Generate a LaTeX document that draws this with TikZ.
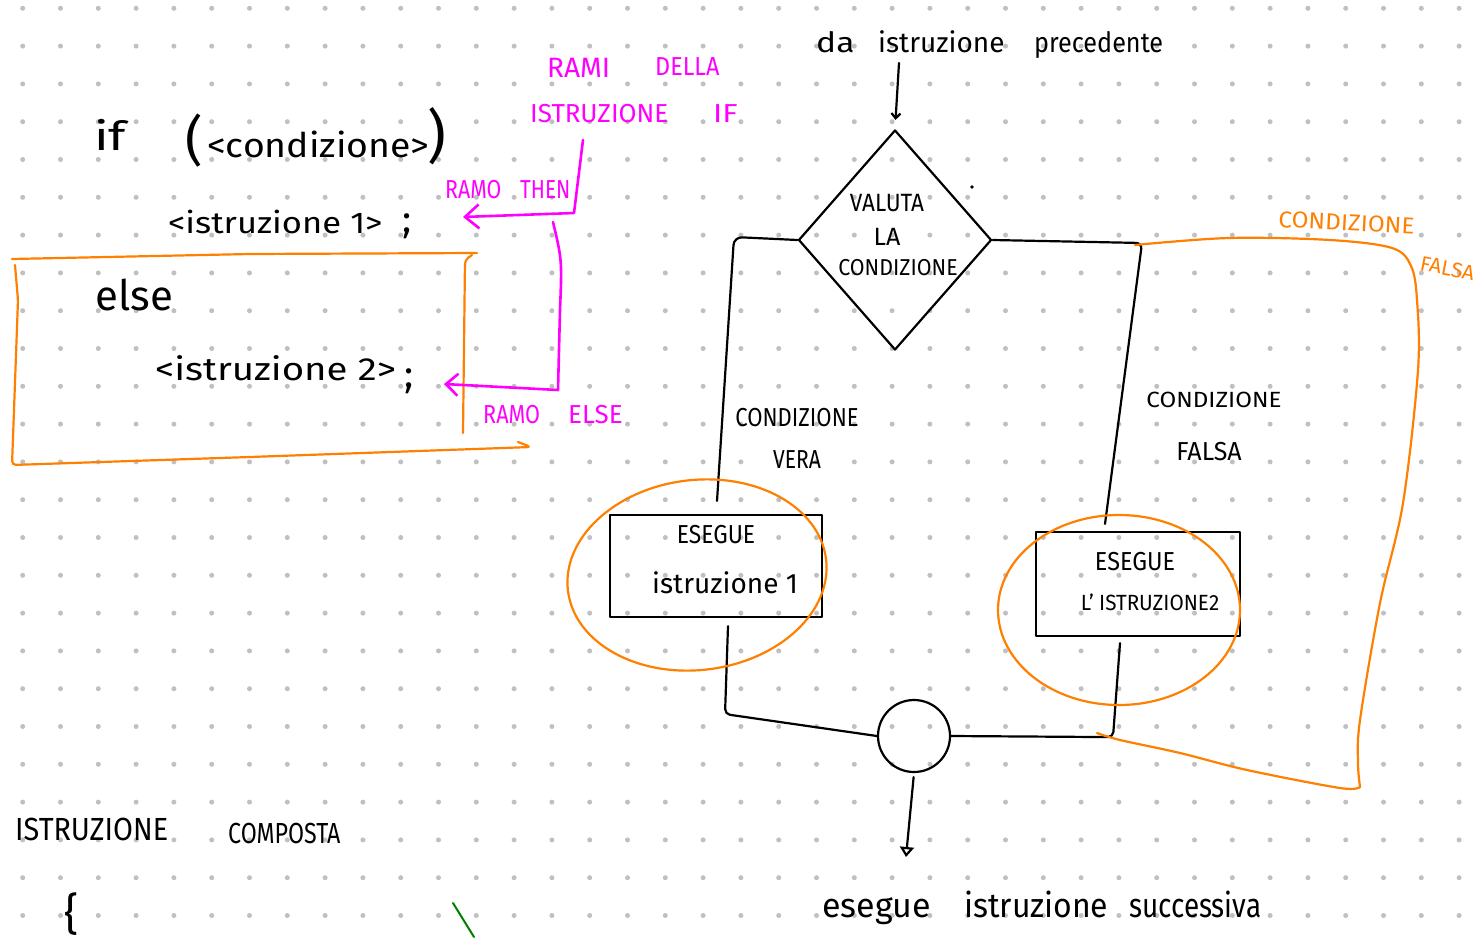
\documentclass[tikz,border=0pt]{standalone}
\usepackage{fontspec}
\setmainfont{Fira Sans}
\usepackage{graphicx}
\usetikzlibrary{shapes.geometric,arrows.meta}
\definecolor{dotc}{RGB}{192,192,192}
\definecolor{orng}{RGB}{255,128,0}
\definecolor{magn}{RGB}{255,0,255}
\definecolor{grn}{RGB}{0,128,0}
\newcommand{\hs}[2]{\scalebox{#1}[1]{#2}}
\tikzset{
 fs/.style={font=\fontsize{#1}{#1}\selectfont},
 tx/.style={inner sep=0pt, anchor=base west},
 tc/.style={inner sep=0pt, anchor=center},
 blk/.style={line width=2.2pt, line cap=round, line join=round, draw=black},
 org/.style={line width=2.2pt, line cap=round, line join=round, draw=orng},
 mgl/.style={line width=2.6pt, line cap=round, line join=round, draw=magn},
 mtx/.style={text=magn},
 otx/.style={text=orng},
}
\begin{document}
\begin{tikzpicture}[x=1pt,y=-1pt]
\fill[white] (0,0) rectangle (1475,937);
\useasboundingbox (0,0) rectangle (1475,937);
% dot grid
\foreach \i in {0,...,38}{\foreach \j in {0,...,24}{\fill[dotc] ({22.7+37.8*\i},{8.3+37.8*\j}) circle (2.5pt);}}

% ---------- left: code ----------
\node[tx,fs=40] (kif) at (94,150) {\hs{1.3}{if}};
\node[tc,fs=54] (lpar) at (194,141) {(};
\node[tx,fs=34] (cnd) at (207,157) {\hs{1.1}{<condizione>}};
\node[tc,fs=58] (rpar) at (437,136) {)};
\node[tx,fs=30] (ist1) at (168,233) {\hs{1.15}{<istruzione 1>}};
\node[tc,fs=38] (semi1) at (407,226) {;};
\node[tx,fs=42] (kelse) at (95,310) {else};
\node[tx,fs=32] (ist2) at (155,380) {\hs{1.2}{<istruzione 2>}};
\node[tc,fs=38] (semi2) at (409,381) {;};
\node[tx,fs=32] (comp1) at (15,840) {\hs{0.9}{ISTRUZIONE}};
\node[tx,fs=29] (comp2) at (228,843) {\hs{0.8}{COMPOSTA}};
\node[tc,fs=44] (brace) at (72,914) {\{};
\draw[grn, line width=2pt, line cap=round] (453,903) -- (474,937);

% orange frame around else
\draw[org] (12,259) -- (250,254) -- (477,253);
\draw[org, rounded corners=4pt] (15,265) -- (18,300) -- (12,465) -- (250,457) -- (531,447) -- (518,442);
\draw[org, rounded corners=4pt] (472,255) -- (465,260) -- (463,433);

% magenta labels and arrows
\node[tx,fs=28,mtx] (rami) at (547,77) {RAMI};
\node[tx,fs=26,mtx] (della) at (655,75) {\hs{0.9}{DELLA}};
\node[tx,fs=26,mtx] (istrif) at (530,122) {ISTRUZIONE};
\node[tx,fs=26,mtx] (kwif) at (713,122) {\hs{1.2}{IF}};
\node[tx,fs=26,mtx] (ramo1) at (445,198) {\hs{0.82}{RAMO}};
\node[tx,fs=26,mtx] (then) at (520,198) {\hs{0.8}{THEN}};
\node[tx,fs=26,mtx] (ramo2) at (483,423) {\hs{0.83}{RAMO}};
\node[tx,fs=26,mtx] (kwelse) at (568,423) {ELSE};
\coordinate (thenstart) at (583,140);
\coordinate (thenend) at (463,217);
\coordinate (elsestart) at (553,222);
\coordinate (elseend) at (444,384);
\draw[mgl, -{Straight Barb[length=14pt,width=24pt]}] (thenstart) -- (574,213) -- (thenend);
\draw[mgl, -{Straight Barb[length=12pt,width=22pt]}] (elsestart) .. controls (562,260) .. (560,310) -- (558,390) -- (elseend);

% ---------- right: flowchart ----------
\node[tx,fs=28] (da) at (816,52) {\hs{1.2}{da}};
\node[tx,fs=28] (daist) at (878,52) {istruzione};
\node[tx,fs=28] (prec) at (1034,52) {\hs{0.9}{precedente}};
\coordinate (prevend) at (899,63);

\node[draw, blk, diamond, minimum width=193pt, minimum height=220pt, inner sep=0pt] (cond) at (895,240) {};
\node[tc,fs=25] (val) at (887,203) {\hs{0.9}{VALUTA}};
\node[tc,fs=25] (la) at (887,237) {LA};
\node[tc,fs=23] (cnd2) at (898,268) {\hs{0.93}{CONDIZIONE}};
\fill (972,187) circle (1.8pt);

\node[tc,fs=26] (cv1) at (797,418) {\hs{0.85}{CONDIZIONE}};
\node[tc,fs=26] (cv2) at (797,460) {\hs{0.81}{VERA}};
\node[tc,fs=22] (cf1) at (1214,400) {\hs{1.1}{CONDIZIONE}};
\node[tc,fs=26] (cf2) at (1209,452) {\hs{0.96}{FALSA}};

\node[draw, blk, rectangle, minimum width=212pt, minimum height=102pt, inner sep=0pt] (box1) at (716,566) {};
\node[tc,fs=26] (b1a) at (716,535) {\hs{0.88}{ESEGUE}};
\node[tx,fs=28] (b1b) at (652,593) {istruzione 1};

\node[draw, blk, rectangle, minimum width=204pt, minimum height=104pt, inner sep=0pt] (box2) at (1138,584) {};
\node[tc,fs=26] (b2a) at (1135,562) {\hs{0.9}{ESEGUE}};
\node[tc,fs=22] (b2b) at (1150,602) {\hs{0.94}{L' ISTRUZIONE2}};

\node[draw, blk, circle, minimum size=72pt, inner sep=0pt] (join) at (914,736) {};

\node[tx,fs=34] (s1) at (822,917) {esegue};
\node[tx,fs=34] (s2) at (964,917) {\hs{0.94}{istruzione}};
\node[tx,fs=34] (s3) at (1129,917) {\hs{0.82}{successiva}};
\coordinate (nextend) at (906,857);

% connectors
\draw[blk, -{Straight Barb[length=5pt,width=9pt]}, shorten >=9pt] (prevend) -- (cond.north);
\draw[blk, rounded corners=8pt] (cond.west) -- (734,237) -- ([xshift=1pt,yshift=13pt]box1.north);
\draw[blk, rounded corners=6pt] (cond.east) -- (1142,243) -- ([xshift=-33pt,yshift=7pt]box2.north);
\draw[blk, rounded corners=5pt] ([xshift=12pt,yshift=-8pt]box1.south) -- ++(-3,88) -- (join.west);
\draw[blk, rounded corners=5pt] ([xshift=-18pt,yshift=-6pt]box2.south) -- ++(-7,94) -- (join.east);
\draw[blk, -{Triangle[open,length=10pt,width=14pt]}, shorten <=4pt] (join.south) -- (nextend);

% orange annotations
\draw[org, rotate around={7:(697,575)}] (697,575) ellipse [x radius=130, y radius=95];
\draw[org] (1119,610) ellipse [x radius=121, y radius=95];
\draw[org] plot[smooth, tension=0.55] coordinates {(1135,245) (1229,238) (1330,240) (1392,248) (1411,266) (1417,300) (1418,370) (1403,503) (1380,603) (1360,720) (1358,763) (1360,787)};
\draw[org] plot[smooth, tension=0.55] coordinates {(1360,787) (1340,788) (1247,770) (1180,753) (1120,740) (1097,733)};
\node[tx,fs=23,otx,rotate=-3] (ocf1) at (1278,227) {\hs{1.06}{CONDIZIONE}};
\node[tx,fs=21,otx,rotate=-11] (ocf2) at (1419,270) {FALSA};
\end{tikzpicture}
\end{document}
